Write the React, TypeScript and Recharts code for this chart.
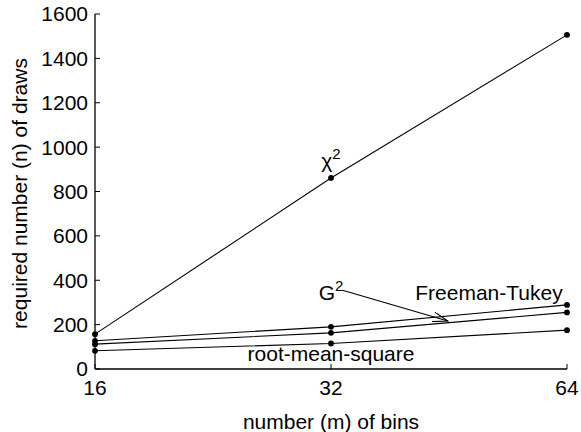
import { LineChart, Line, XAxis, YAxis, ReferenceDot, ReferenceLine, Label } from "recharts";

// number of bins (log2 spaced)
const bins = [16, 32, 64];
const chiSquare = [157, 861, 1506];
const freemanTukey = [127, 190, 289];
const gSquare = [112, 163, 255];
const rootMeanSquare = [82, 115, 175];

const yTicks = [0, 200, 400, 600, 800, 1000, 1200, 1400, 1600];

const data = bins.map((m, i) => ({
  m,
  chi: chiSquare[i],
  ft: freemanTukey[i],
  g2: gSquare[i],
  rms: rootMeanSquare[i],
}));

const FONT = "'Liberation Sans', Arial, Helvetica, sans-serif";
const FS = 21;

// text annotations, in data coordinates
const notes = [
  { x: 32, y: 904, base: "\u03c7", sup: "2", anchor: "middle" },
  { x: 32, y: 310, base: "G", sup: "2", anchor: "middle" },
  { x: 63.2, y: 310, base: "Freeman-Tukey", sup: "", anchor: "end" },
  { x: 32, y: 36, base: "root-mean-square", sup: "", anchor: "middle" },
];

const arrowFrom = { x: 33.1, y: 355 };
const arrowTo = { x: 45.1, y: 216 };

function noteShape(n: any) {
  return (p: any) => (
    <text x={p.cx} y={p.cy} textAnchor={n.anchor} fontFamily={FONT} fontSize={FS} fill="#000">
      {n.base}
      {n.sup ? (
        <tspan dy={-9} fontSize={15}>
          {n.sup}
        </tspan>
      ) : null}
    </text>
  );
}

export default function App() {
  const lineProps = {
    type: "linear" as const,
    stroke: "#000",
    strokeWidth: 1.1,
    dot: { r: 2.9, fill: "#000", stroke: "#000", strokeWidth: 0 },
    isAnimationActive: false,
  };
  const tickStyle = { fill: "#000", fontSize: FS, fontFamily: FONT };
  return (
    <div style={{ position: "absolute", left: 0, top: 0, background: "#fff" }}>
      <LineChart width={581} height={432} data={data} margin={{ top: 14, right: 14, left: 0, bottom: 0 }}>
        <defs>
          <marker id="arrowHead" markerWidth="16" markerHeight="10" refX="15" refY="5" orient="auto" markerUnits="userSpaceOnUse">
            <path d="M0,0 L15,5 L0,10" fill="none" stroke="#000" strokeWidth={1.1} />
          </marker>
        </defs>
        <XAxis
          xAxisId="b"
          dataKey="m"
          type="number"
          scale="log"
          domain={[16, 64]}
          ticks={bins}
          height={63}
          tickSize={-5}
          tickMargin={16}
          tick={tickStyle}
          axisLine={{ stroke: "#000", strokeWidth: 1.3 }}
          tickLine={{ stroke: "#000" }}
        >
          <Label value="number (m) of bins" position="insideBottom" offset={3} style={{ fill: "#000", fontSize: FS, fontFamily: FONT }} />
        </XAxis>
        <XAxis
          xAxisId="t"
          orientation="top"
          dataKey="m"
          type="number"
          scale="log"
          domain={[16, 64]}
          ticks={bins}
          height={0}
          tickSize={-5}
          tickFormatter={() => ""}
          axisLine={{ stroke: "#000", strokeWidth: 1.3 }}
          tickLine={{ stroke: "#000" }}
        />
        <YAxis
          yAxisId="l"
          domain={[0, 1600]}
          ticks={yTicks}
          width={95}
          tickSize={-5}
          tickMargin={12}
          tick={tickStyle}
          axisLine={{ stroke: "#000", strokeWidth: 1.3 }}
          tickLine={{ stroke: "#000" }}
          label={{
            content: ({ viewBox }: any) => {
              const cx = viewBox.x + 27;
              const cy = viewBox.y + viewBox.height / 2 + 2;
              return (
                <text x={cx} y={cy} transform={`rotate(-90 ${cx} ${cy})`} textAnchor="middle" fontFamily={FONT} fontSize={FS} fill="#000">
                  required number (n) of draws
                </text>
              );
            },
          }}
        />
        <YAxis
          yAxisId="r"
          orientation="right"
          domain={[0, 1600]}
          ticks={yTicks}
          width={0}
          tickSize={-5}
          tickFormatter={() => ""}
          axisLine={{ stroke: "#000", strokeWidth: 1.3 }}
          tickLine={{ stroke: "#000" }}
        />
        <Line {...lineProps} xAxisId="b" yAxisId="l" dataKey="chi" />
        <Line {...lineProps} xAxisId="b" yAxisId="l" dataKey="ft" />
        <Line {...lineProps} xAxisId="b" yAxisId="l" dataKey="g2" />
        <Line {...lineProps} xAxisId="b" yAxisId="l" dataKey="rms" />
        {notes.map((n, i) => (
          <ReferenceDot key={i} xAxisId="b" yAxisId="l" x={n.x} y={n.y} r={0} shape={noteShape(n)} />
        ))}
        <ReferenceLine
          xAxisId="b"
          yAxisId="l"
          segment={[arrowFrom, arrowTo]}
          shape={(p: any) => (
            <line x1={p.x1} y1={p.y1} x2={p.x2} y2={p.y2} stroke="#000" strokeWidth={1.1} markerEnd="url(#arrowHead)" />
          )}
        />
      </LineChart>
    </div>
  );
}
